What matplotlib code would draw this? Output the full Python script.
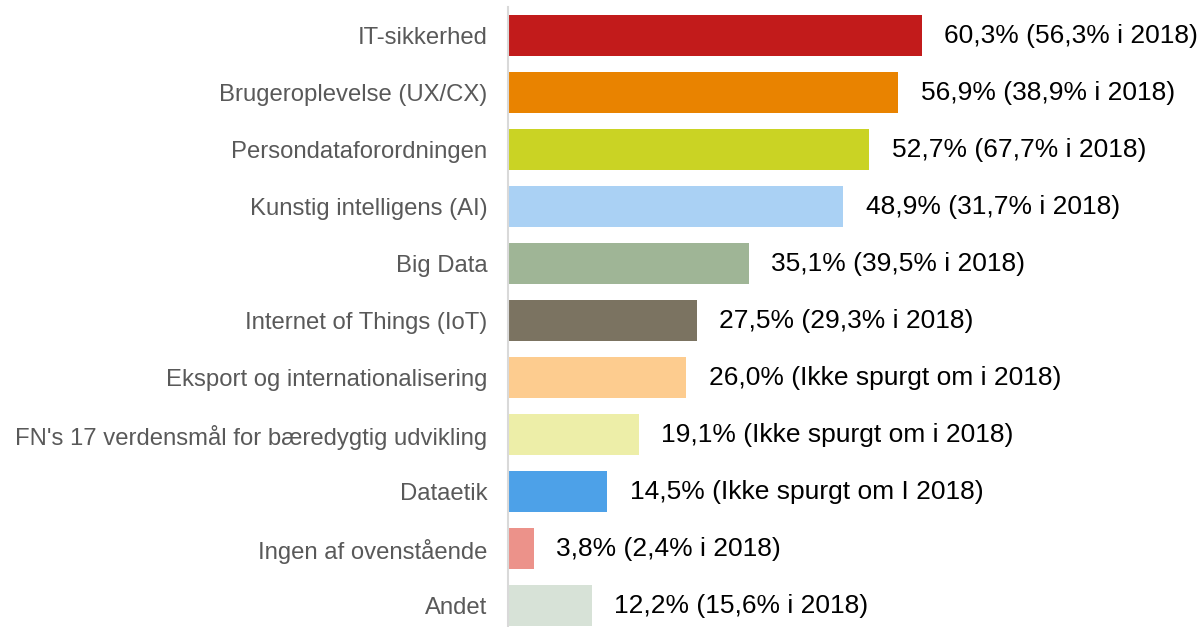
import matplotlib.pyplot as plt

categories = ['IT-sikkerhed', 'Brugeroplevelse (UX/CX)', 'Persondataforordningen',
              'Kunstig intelligens (AI)', 'Big Data', 'Internet of Things (IoT)',
              'Eksport og internationalisering',
              "FN's 17 verdensmål for bæredygtig udvikling", 'Dataetik',
              'Ingen af ovenstående', 'Andet']
values = [60.3, 56.9, 52.7, 48.9, 35.1, 27.5, 26.0, 19.1, 14.5, 3.8, 12.2]
labels = ['60,3% (56,3% i 2018)', '56,9% (38,9% i 2018)', '52,7% (67,7% i 2018)',
          '48,9% (31,7% i 2018)', '35,1% (39,5% i 2018)', '27,5% (29,3% i 2018)',
          '26,0% (Ikke spurgt om i 2018)', '19,1% (Ikke spurgt om i 2018)',
          '14,5% (Ikke spurgt om I 2018)', '3,8% (2,4% i 2018)',
          '12,2% (15,6% i 2018)']
colors = ['#C21B1B', '#E98300', '#CAD324', '#AAD1F4', '#9FB596', '#7B7361',
          '#FDCC8F', '#EDEEA8', '#4DA1E8', '#EC928A', '#D7E2D7']

plt.rcParams['font.family'] = ['Liberation Sans', 'DejaVu Sans']

fig = plt.figure(figsize=(12, 6.27), dpi=100)
ax = fig.add_axes([0.4233, 0.0, 0.5767, 0.9888])

ypos = list(range(len(categories)))
ax.barh(ypos, values, height=0.72, color=colors)
for y, v, t in zip(ypos, values, labels):
    ax.text(v + 3.25, y, t, va='center', ha='left', fontsize=19, color='black')

ax.set_xlim(0, 100.9)
ax.set_ylim(10.377, -0.5)
ax.set_yticks(ypos)
ax.set_yticklabels(categories, fontsize=17.2, color='#595959')
ax.tick_params(axis='y', length=0, pad=15)
ax.set_xticks([])
for s in ['top', 'right', 'bottom']:
    ax.spines[s].set_visible(False)
ax.spines['left'].set_color('#D9D9D9')
ax.spines['left'].set_linewidth(1.5)

fig.savefig('out.png', dpi=100)
